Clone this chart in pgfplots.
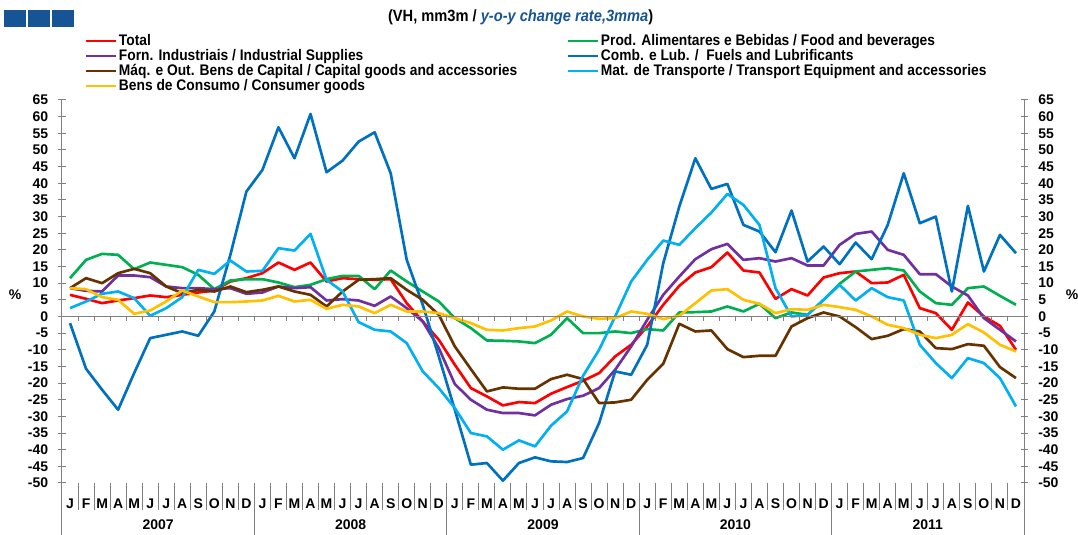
\documentclass[border=0pt]{standalone}
\usepackage{fontspec}
\setmainfont{Liberation Sans}
\newfontfamily\legfont{Liberation Sans}[FakeStretch=0.9]
\usepackage{pgfplots}
\usepackage{pgfplotstable}
\pgfplotsset{compat=1.18}

\definecolor{cTotal}{RGB}{255,0,0}
\definecolor{cFood}{RGB}{0,176,80}
\definecolor{cInd}{RGB}{112,48,160}
\definecolor{cFuel}{RGB}{0,112,192}
\definecolor{cCap}{RGB}{102,51,0}
\definecolor{cTrans}{RGB}{0,176,240}
\definecolor{cCons}{RGB}{255,192,0}
\definecolor{axgray}{RGB}{128,128,128}
\definecolor{hdrblue}{RGB}{22,84,150}

% monthly y-o-y rates, Jan 2007 (m=0) .. Dec 2011 (m=59)
\pgfplotstableread{
m  total food  ind   fuel  cap   trans cons
0  6.5   11.5  8.5   -2    8.5   2.5   8.5
1  5.3   17    7.7   -15.7 11.5  4.5   8.2
2  4.0   18.8  7.5   -22   10    6.8   5.8
3  4.8   18.5  12.3  -28   13    7.5   5
4  5.5   14.2  12.3  -17   14.3  5.5   0.8
5  6.3   16.2  11.8  -6.5  13    0.2   1.8
6  5.8   15.5  9     -5.5  9     2.5   4.5
7  6.5   14.8  8.5   -4.5  7     5.8   7.8
8  7.2   12.5  8.5   -5.8  8     14    6
9  7.8   8.2   8.2   1.5   7.5   12.8  4.3
10 10.5  10.8  8.5   18.5  9     16.8  4.3
11 11.5  11.2  6.8   37.5  7.3   13.5  4.5
12 13    11.2  7.2   44    8     13.7  4.8
13 16.2  10.2  9     56.8  9     20.5  6.2
14 14    8.8   8.5   47.5  7.5   19.8  4.5
15 16.2  9.5   8.8   60.8  6.5   24.8  5
16 10.5  11.2  4.8   43.3  3     11    2.3
17 11.5  12.2  5.2   46.8  7.5   7.5   3.5
18 11.2  12.2  4.8   52.5  11    -1.7  3
19 11    8.2   3.2   55.3  11.2  -4    1
20 11.2  13.8  6     43    11.5  -4.5  3.5
21 4     10.5  2.5   17    8     -8    1.5
22 -1.5  7.5   -1.5  3.5   5     -16.5 1.5
23 -7    4.5   -9.5  -12   0.5   -21.5 1
24 -14.5 -0.5  -20.3 -28   -9    -27.5 -0.5
25 -21.5 -3.5  -25   -44.5 -15.8 -35   -2
26 -24   -7.2  -28   -44   -22.5 -36   -4
27 -26.7 -7.3  -29   -49.3 -21.3 -40   -4.2
28 -25.7 -7.5  -29   -44   -21.7 -37.2 -3.5
29 -26   -8    -29.7 -42.3 -21.7 -39   -3
30 -23.2 -5.5  -26.5 -43.5 -18.8 -32.8 -1.2
31 -21.2 -0.5  -24.8 -43.7 -17.5 -28.5 1.5
32 -19.3 -5    -23.8 -42.5 -18.8 -17.8 0
33 -17   -5    -21.5 -32   -26   -10   -0.7
34 -12   -4.5  -16   -16.5 -25.8 0     -0.5
35 -8.5  -5    -9    -17.5 -25   10.5  1.5
36 -3    -3.8  -1    -8.5  -19   17    0.8
37 3.5   -4.2  6.5   16    -14.2 22.8  -0.8
38 9.2   1.2   12    33    -2.2  21.5  0.2
39 13.2  1.3   17.2  47.5  -4.5  26.5  4
40 14.8  1.5   20.2  38.3  -4.2  31.2  7.8
41 19.2  3     21.8  39.8  -9.8  36.8  8.2
42 13.8  1.5   17    27.5  -12.2 33.5  5
43 13.2  3.8   17.5  25.5  -11.8 27.5  3.8
44 5.3   -0.5  16.5  19.3  -11.8 8.5   1
45 8.2   1.2   17.5  31.8  -3    0     2.2
46 6.3   0.5   15.3  16.5  -0.5  0.5   2
47 11.7  5     15.3  21    1.2   5     3.5
48 13    9.8   21.5  15.7  0     9.5   2.8
49 13.5  13.5  24.8  22.2  -3.2  4.8   2
50 10    14    25.5  17.2  -6.8  8.5   0
51 10.2  14.5  20    27.5  -5.8  5.8   -2.5
52 12.5  13.8  18.5  43    -3.8  4.8   -3.5
53 2.5   7.5   12.7  28    -4.5  -8.5  -5.5
54 1     4     12.7  30    -9.5  -14   -6.5
55 -4    3.5   9     7.5   -9.8  -18.5 -5.5
56 4.2   8.5   6.3   33.2  -8.3  -12.5 -2.3
57 0     9     -0.5  13.5  -8.8  -14   -4.8
58 -2.8  6.2   -4    24.5  -15.2 -18.5 -8.5
59 -10   3.5   -7.5  19    -18.5 -27   -10.5
}\imports

\newcommand{\tlfont}{\bfseries\fontsize{10.5}{12}\selectfont}

\begin{document}
\begin{tikzpicture}
\useasboundingbox (-46.5pt,-39pt) rectangle (762pt,362.25pt);
\begin{axis}[
  at={(0,0)}, anchor=south west,
  scale only axis, width=721.5pt, height=287.25pt,
  xmin=-0.5, xmax=59.5, ymin=-50, ymax=65,
  axis line style={draw=none},
  ytick={-50,-45,...,65},
  yticklabels={-50,-45,-40,-35,-30,-25,-20,-15,-10,-5,0,5,10,15,20,25,30,35,40,45,50,55,60,65},
  ytick pos=both, yticklabel pos=left,
  tick align=center,
  major tick length=5.25pt,
  y tick style={axgray, line width=0.75pt},
  xtick={0,...,59},
  xticklabels={J,F,M,A,M,J,J,A,S,O,N,D,J,F,M,A,M,J,J,A,S,O,N,D,J,F,M,A,M,J,J,A,S,O,N,D,J,F,M,A,M,J,J,A,S,O,N,D,J,F,M,A,M,J,J,A,S,O,N,D},
  x tick style={draw=none},
  ticklabel style={font=\tlfont},
  xticklabel style={anchor=base, yshift=-16.5pt},
  yticklabel style={anchor=east, inner xsep=0pt, xshift=-7.5pt},
  every axis plot/.append style={line width=2pt, line join=round},
  legend columns=2,
  legend image code/.code={\draw[#1,line width=1.5pt] (0pt,0pt) -- (22.5pt,0pt);},
  legend style={at={(0.0239,1.173)}, anchor=north west, draw=none, fill=none,
    inner sep=0pt, outer sep=0pt, row sep=0pt,
    font=\legfont\bfseries\fontsize{11.5}{13}\selectfont,
    nodes={inner sep=0pt, text height=8.5pt, text depth=2.75pt},
    /tikz/every odd column/.style={column sep=1.5pt},
    /tikz/every even column/.style={column sep=0pt}},
  legend cell align=left,
  after end axis/.code={
    \draw[axgray, line width=0.75pt] (axis cs:-0.5,0) -- (axis cs:59.5,0);
    \foreach \k in {1,...,59}{
      \pgfmathsetmacro\xx{\k-0.5}
      \draw[axgray, line width=0.75pt] (axis cs:\xx,0) -- ++(0,-3.75pt);
      \draw[axgray, line width=0.75pt] (axis cs:\xx,-50) -- ++(0,-20.25pt);
    }
    \foreach \k in {11.5,23.5,35.5,47.5,-0.5,59.5}{
      \draw[axgray, line width=0.75pt] (axis cs:\k,-50) -- ++(0,-39pt);
    }
    \draw[axgray, line width=0.75pt] (axis cs:-0.5,65) -- (axis cs:-0.5,-50);
    \draw[axgray, line width=0.75pt] (axis cs:59.5,65) -- (axis cs:59.5,-50);
    \foreach \v in {-50,-45,...,65}{
      \node[anchor=west, inner xsep=0pt, font=\tlfont] at ([xshift=10.5pt]axis cs:59.5,\v) {\v};
    }
    \foreach \y/\c in {2007/5.5,2008/17.5,2009/29.5,2010/41.5,2011/53.5}{
      \node[font=\tlfont] at ([yshift=-31pt]axis cs:\c,-50) {\y};
    }
    \node[font=\tlfont] at ([xshift=-35.25pt]axis cs:-0.5,6.5) {\%};
    \node[font=\tlfont] at ([xshift=36pt]axis cs:59.5,6.5) {\%};
  }
]
\addplot[cTotal] table[x=m,y=total]{\imports};
\addlegendentry{\makebox[336pt][l]{Total}}
\addplot[cFood] table[x=m,y=food]{\imports};
\addlegendentry{Prod. Alimentares e Bebidas / Food and beverages}
\addplot[cInd] table[x=m,y=ind]{\imports};
\addlegendentry{\makebox[336pt][l]{Forn. Industriais / Industrial Supplies}}
\addplot[cFuel] table[x=m,y=fuel]{\imports};
\addlegendentry{Comb. e Lub. /\ \ Fuels and Lubrificants}
\addplot[cCap] table[x=m,y=cap]{\imports};
\addlegendentry{\makebox[336pt][l]{Máq. e Out. Bens de Capital / Capital goods and accessories}}
\addplot[cTrans] table[x=m,y=trans]{\imports};
\addlegendentry{Mat. de Transporte / Transport Equipment and accessories}
\addplot[cCons] table[x=m,y=cons]{\imports};
\addlegendentry{\makebox[336pt][l]{Bens de Consumo / Consumer goods}}
\end{axis}
\fill[hdrblue] (-43.5pt,342pt) rectangle (-27pt,354.75pt);
\fill[hdrblue] (-25.5pt,342pt) rectangle (-9pt,354.75pt);
\fill[hdrblue] (-7.5pt,342pt) rectangle (9pt,354.75pt);
\node[font=\legfont\bfseries\fontsize{12.2}{14}\selectfont] at (344pt,349.5pt)
  {(VH, mm3m / {\color{hdrblue}\itshape y-o-y change rate,3mma})};
\end{tikzpicture}
\end{document}
